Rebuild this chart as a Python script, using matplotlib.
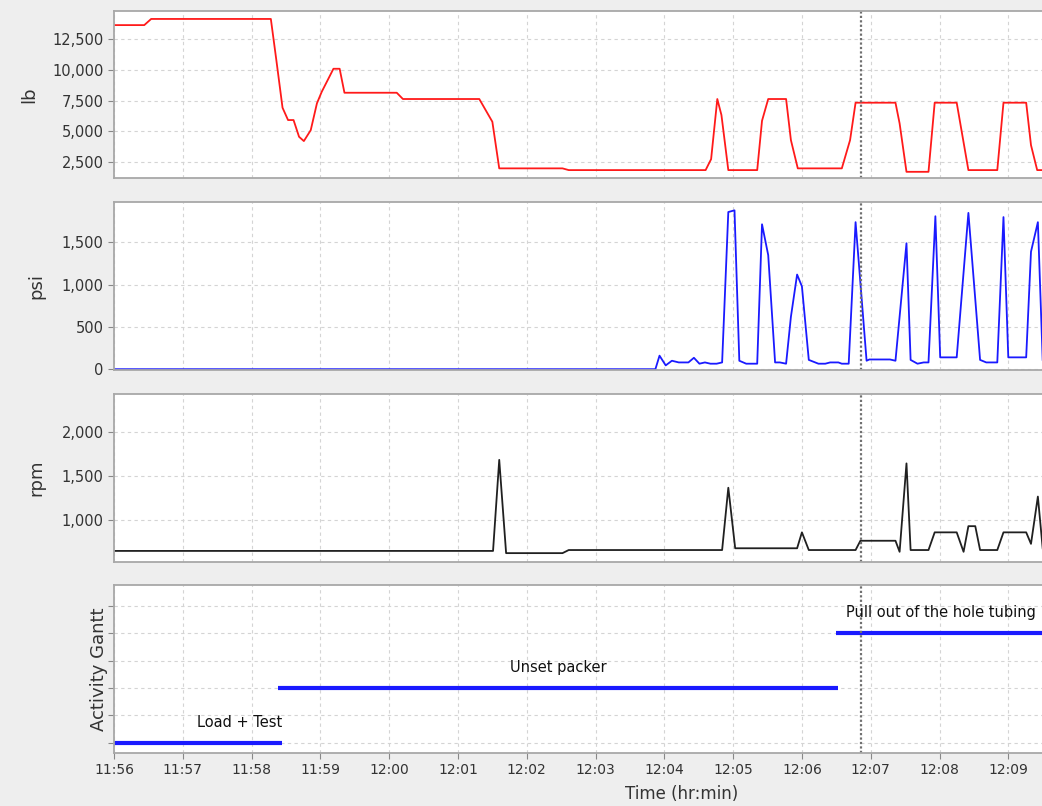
import numpy as np
import matplotlib
matplotlib.use('Agg')
import matplotlib.pyplot as plt
from matplotlib.ticker import FuncFormatter

# minutes after 11:56
lb_t = [0, 0.44, 0.54, 2.28, 2.36, 2.45, 2.53, 2.61, 2.69, 2.76, 2.86, 2.95, 3.02, 3.19, 3.28,
        3.35, 4.11, 4.20, 5.31, 5.50, 5.60, 6.52, 6.61, 8.60, 8.68, 8.77, 8.83, 8.93, 9.35, 9.42,
        9.51, 9.77, 9.84, 9.94, 10.58, 10.70, 10.78, 11.36, 11.42, 11.52, 11.84, 11.93, 12.25, 12.42,
        12.84, 12.93, 13.26, 13.33, 13.42, 13.6]
lb_v = [13650, 13650, 14150, 14150, 10800, 6930, 5930, 5930, 4570, 4220, 5110, 7290, 8230, 10100, 10100,
        8150, 8150, 7640, 7640, 5790, 2000, 2000, 1860, 1860, 2750, 7640, 6340, 1860, 1860, 5870,
        7640, 7640, 4300, 2000, 2000, 4300, 7340, 7340, 5660, 1720, 1720, 7340, 7340, 1860,
        1860, 7340, 7340, 3890, 1860, 1860]

psi_t = [0, 7.87, 7.93, 8.02, 8.11, 8.21, 8.35, 8.43, 8.51, 8.59, 8.67, 8.76, 8.84, 8.93, 9.02,
         9.09, 9.19, 9.35, 9.42, 9.51, 9.61, 9.68, 9.77, 9.84, 9.93, 10.00, 10.10, 10.24, 10.34, 10.41,
         10.53, 10.58, 10.68, 10.78, 10.94, 10.98, 11.28, 11.36, 11.52, 11.58, 11.68, 11.77, 11.84, 11.94,
         12.01, 12.25, 12.42, 12.59, 12.68, 12.84, 12.93, 13.00, 13.26, 13.33, 13.43, 13.50]
psi_v = [0, 0, 160, 45, 100, 80, 80, 135, 65, 80, 65, 65, 80, 1860, 1880,
         100, 65, 65, 1715, 1350, 80, 80, 65, 620, 1120, 980, 110, 65, 65, 80,
         80, 65, 65, 1740, 100, 115, 115, 100, 1490, 110, 65, 80, 80, 1810,
         140, 140, 1850, 110, 80, 80, 1800, 140, 140, 1390, 1740, 110]

rpm_t = [0, 5.51, 5.60, 5.70, 6.52, 6.61, 8.84, 8.93, 9.03, 9.93, 10.00, 10.10, 10.78, 10.85, 11.36,
         11.42, 11.52, 11.58, 11.84, 11.93, 12.25, 12.35, 12.42, 12.52, 12.59, 12.84, 12.93, 13.26,
         13.33, 13.43, 13.50]
rpm_v = [650, 650, 1680, 625, 625, 660, 660, 1365, 680, 680, 860, 660, 660, 765, 765,
         640, 1640, 660, 660, 860, 860, 640, 930, 930, 660, 660, 860, 860,
         730, 1265, 680]

tasks = ['Load + Test', 'Unset packer', 'Pull out of the hole tubing']
task_start = [0, 2.39, 10.50]
task_end = [2.44, 10.53, 16.5]
task_row = [0, 2, 4]
task_label_x = [1.21, 5.76, 10.64]

cursor_t = 10.86
tick_labels = ['11:56', '11:57', '11:58', '11:59', '12:00', '12:01', '12:02',
               '12:03', '12:04', '12:05', '12:06', '12:07', '12:08', '12:09']

bg = '#eeeeee'
fig = plt.figure(figsize=(10.42, 8.06), dpi=100, facecolor=bg)

left, width = 114 / 1042, 928 / 1042
ax1 = fig.add_axes([left, 0.7792, width, 0.2072])
ax2 = fig.add_axes([left, 0.5409, width, 0.2081])
ax3 = fig.add_axes([left, 0.3031, width, 0.2077])
ax4 = fig.add_axes([left, 0.0661, width, 0.2081])
axes = [ax1, ax2, ax3, ax4]

ax1.plot(lb_t, lb_v, color='#ff1a1a', lw=1.3)
ax2.plot(psi_t, psi_v, color='#1a1aff', lw=1.3)
ax3.plot(rpm_t, rpm_v, color='#202020', lw=1.3)
for i in range(len(tasks)):
    ax4.plot([task_start[i], task_end[i]], [task_row[i], task_row[i]], color='#1a1aff', lw=3,
             solid_capstyle='butt')
    ax4.text(task_label_x[i], task_row[i] + 0.75, tasks[i], fontsize=10.5, ha='left', va='center',
             color='#111111')

ax1.set_ylim(1220, 14800)
ax1.set_yticks([2500, 5000, 7500, 10000, 12500])
ax2.set_ylim(-10, 1975)
ax2.set_yticks([0, 500, 1000, 1500])
ax3.set_ylim(528, 2422)
ax3.set_yticks([1000, 1500, 2000])
ax4.set_ylim(-0.37, 5.77)
ax4.set_yticks([0, 1, 2, 3, 4, 5])
ax4.set_yticklabels([])

fmt = FuncFormatter(lambda v, p: f'{v:,.0f}')
label_x = [-0.082, -0.074, -0.074, -0.007]
for ax, lab, lx in zip(axes, ['lb', 'psi', 'rpm', 'Activity Gantt'], label_x):
    ax.set_facecolor('white')
    ax.set_xlim(0, 13.49)
    ax.set_xticks(range(14))
    ax.grid(True, color='#d4d4d4', linestyle=(0, (3, 3)), lw=0.8)
    ax.set_axisbelow(True)
    ax.axvline(cursor_t, color='#707070', lw=1.6, linestyle=(0, (1, 1)))
    for s in ['top', 'bottom', 'left']:
        ax.spines[s].set_color('#a8a8a8')
        ax.spines[s].set_linewidth(1.3)
    ax.spines['right'].set_visible(False)
    ax.tick_params(axis='y', length=4, color='#888888', labelsize=10.5, labelcolor='#333333')
    ax.set_ylabel(lab, fontsize=13, color='#333333')
    ax.yaxis.set_label_coords(lx, 0.5)
    if ax is not ax4:
        ax.yaxis.set_major_formatter(fmt)
        ax.tick_params(axis='x', length=0, labelbottom=False)

ax4.tick_params(axis='x', length=4, color='#888888', labelsize=10, labelcolor='#333333')
ax4.set_xticklabels(tick_labels)
ax4.set_xlabel('Time (hr:min)', fontsize=12, color='#333333')
ax4.xaxis.set_label_coords(0.612, -0.19)

fig.savefig('out.png', dpi=100, facecolor=bg)
